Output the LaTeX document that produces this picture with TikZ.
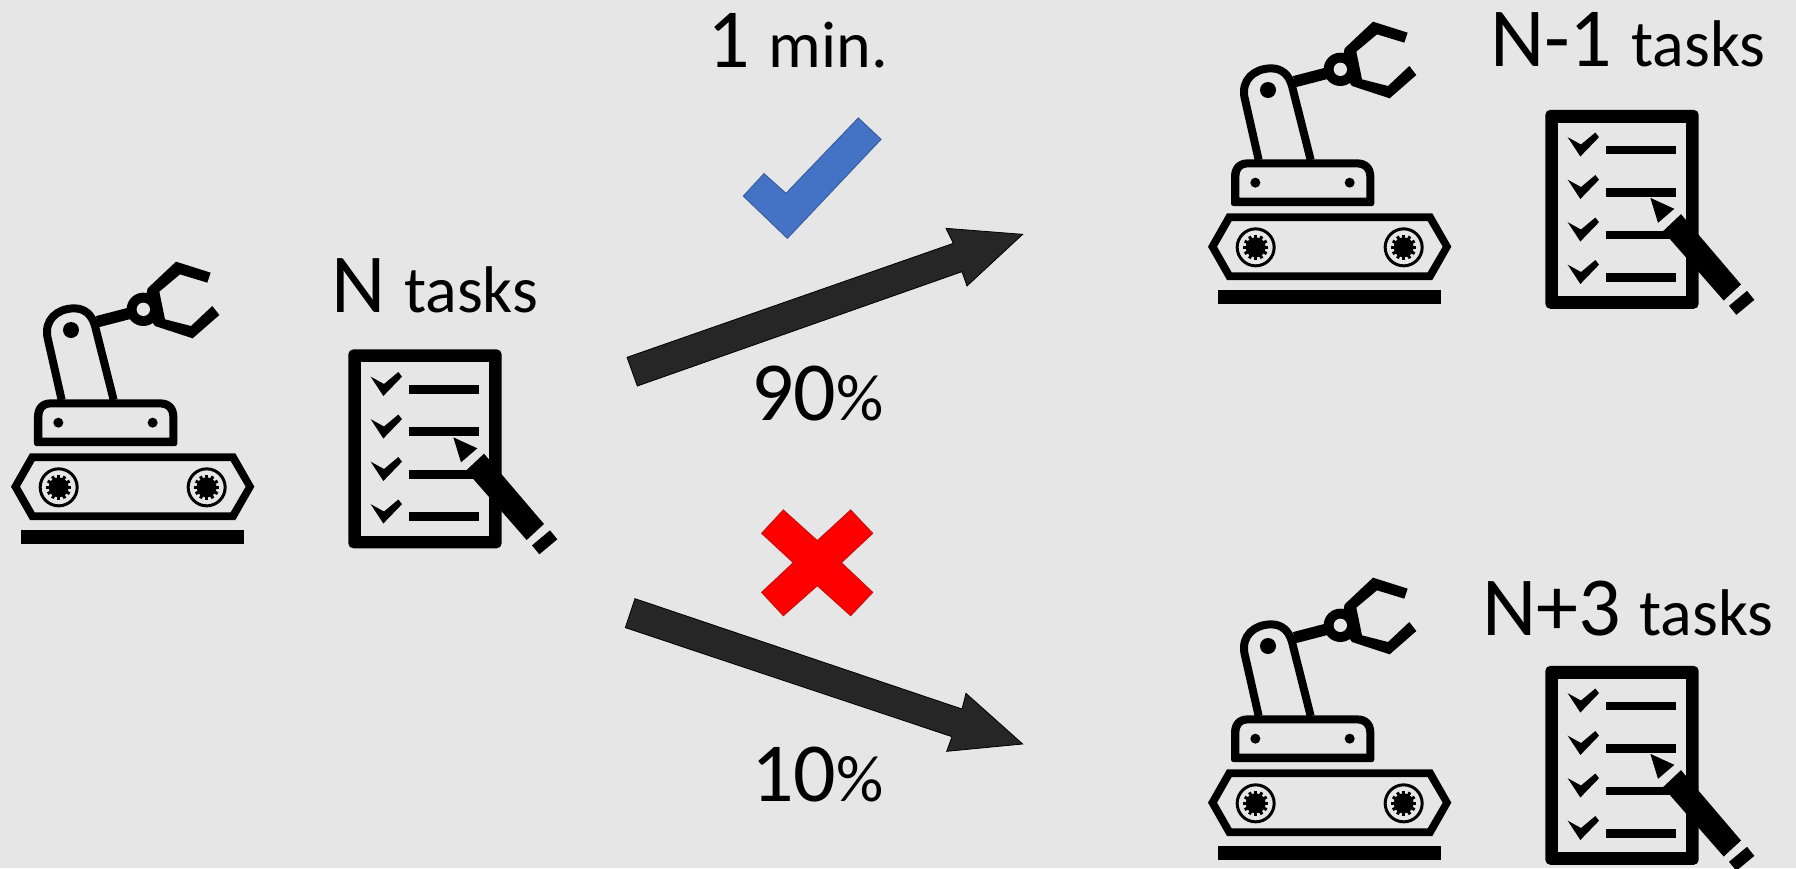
\documentclass[tikz,border=0pt]{standalone}
\usepackage{fontspec}
\setmainfont{Carlito}
\definecolor{bgc}{HTML}{E7E6E6}
\definecolor{arrowc}{HTML}{262626}
\definecolor{tickc}{HTML}{4472C4}
\definecolor{tickedge}{HTML}{3A5F9F}
\definecolor{crossedge}{HTML}{C81010}
\newcommand{\bigsz}{\fontsize{84}{90}\selectfont}
\newcommand{\smallsz}{\fontsize{66}{72}\selectfont}
\tikzset{
  icon/.style={x=0.33333pt,y=-0.33333pt},
  ink/.style={fill=black,draw=none},
  hole/.style={fill=bgc,draw=none},
  lbl/.style={inner sep=0pt,outer sep=0pt,anchor=base west,text=black},
  bigarrow/.style={fill=arrowc,draw=black,line width=0.8pt,line join=miter},
  robot/.pic={
    \begin{scope}[icon]
      % floor bar
      \fill[ink] (63,870) rectangle (732,912);
      % track
      \fill[ink,even odd rule] (33,740) -- (90,640) -- (706,640) -- (763,740) -- (706,840) -- (90,840) -- cycle
        (60,740) -- (104,663) -- (692,663) -- (737,740) -- (692,817) -- (104,817) -- cycle;
      % wheels
      \foreach \cx in {176,620}{
        \begin{scope}[shift={(\cx,742)}]
          \fill[ink,even odd rule] (0,0) circle (60) (0,0) circle (51);
          \fill[ink] (0,0) circle (30);
          \foreach \a in {0,30,...,330}
            \draw[black,line width=3pt] (\a:24) -- (\a:38);
        \end{scope}
      }
      % carriage
      \fill[ink,even odd rule]
        (102,610) -- (102,530) .. controls (102,498) and (122,478) .. (152,478) -- (480,478)
        .. controls (512,478) and (532,498) .. (532,530) -- (532,610)
        .. controls (532,615) and (529,618) .. (525,618) -- (109,618)
        .. controls (105,618) and (102,615) .. (102,610) -- cycle
        (127,593) -- (127,530) .. controls (127,512) and (136,502) .. (152,502) -- (480,502)
        .. controls (498,502) and (508,512) .. (508,530) -- (508,593) -- cycle;
      \fill[ink] (175,548) circle (15) (458,548) circle (15);
      % arm
      \draw[black,line width=8pt,line join=round]
        (185,480) -- (142,290) .. controls (134,240) and (170,206) .. (222,205)
        .. controls (255,205) and (276,225) .. (285,258) -- (341,480);
      \fill[ink] (213,270) circle (24);
      \draw[black,line width=11.5pt] (292,245) -- (400,217);
      % gripper
      \fill[ink] (443,145) -- (528,65) -- (632,98) -- (622,128) -- (540,103) -- (478,155)
        -- (495,238) -- (573,258) -- (637,198) -- (658,225) -- (578,295) -- (465,258) -- (430,208) -- cycle;
      \fill[ink] (430,208) circle (50);
      \fill[hole] (430,208) circle (20);
    \end{scope}
  },
  checklist/.pic={
    \begin{scope}[icon]
      \fill[ink,rounded corners=5pt] (85,58) rectangle (545,655);
      \fill[hole] (122,97) rectangle (507,617);
      \fill[ink] (268,165) rectangle (478,191);
      \fill[ink] (268,292) rectangle (478,319);
      \fill[ink] (268,420) rectangle (460,446);
      \fill[ink] (268,547) rectangle (478,574);
      \foreach \dy in {0,127.5,255,382.5}{
        \fill[ink] (152,140+\dy) -- (192,162+\dy) -- (235,126+\dy) -- (246,140+\dy) -- (190,198+\dy) -- cycle;
      }
      % pen
      \fill[ink] (400,322) -- (472,355) -- (423,397) -- cycle;
      \fill[ink] (492,371) -- (672,582) -- (620,630) -- (438,422) -- cycle;
      \fill[ink] (690,601) -- (712,628) -- (658,673) -- (636,646) -- cycle;
    \end{scope}
  },
}
\begin{document}
\begin{tikzpicture}[x=1pt,y=-1pt]
  \useasboundingbox (0,0) rectangle (1796,868);
  \fill[bgc] (0,0) rectangle (1796,868);
  \begin{scope}
    \clip (0,0) rectangle (1796,868);
    \pic at (0,240) {robot};
    \pic at (320,330) {checklist};
    \pic at (1197,0) {robot};
    \pic at (1517,90.5) {checklist};
    \pic at (1197,556) {robot};
    \pic at (1517,646.5) {checklist};
  \end{scope}
  % top branch
  \begin{scope}[shift={(600,0)},icon]
    \filldraw[fill=tickc,draw=tickedge,line width=1pt]
      (430,588) -- (492,521) -- (558,580) -- (775,354) -- (843,418) -- (562,715) -- cycle;
    \filldraw[bigarrow]
      (81,1072) -- (1060,730) -- (1038,685) -- (1268,703) -- (1101,858) -- (1086,815) -- (112,1158) -- cycle;
  \end{scope}
  % bottom branch
  \begin{scope}[shift={(600,490)},icon]
    \filldraw[fill=red,draw=crossedge,line width=1pt]
      (550,60) -- (652,152) -- (752,60) -- (818,130) -- (724,218) -- (818,307) -- (752,377)
      -- (652,287) -- (550,377) -- (485,307) -- (580,218) -- (485,130) -- cycle;
    \filldraw[bigarrow]
      (105,326) -- (1086,657) -- (1098,610) -- (1268,762) -- (1040,784) -- (1056,740) -- (76,413) -- cycle;
  \end{scope}
  % labels
  \node[lbl] (tN) at (331,312.7) {\bigsz N \smallsz tasks};
  \node[lbl] (tmin) at (707,67.3) {\bigsz 1 \smallsz min.};
  \node[lbl] (t90) at (751,420.7) {\bigsz 90\smallsz \%};
  \node[lbl] (t10) at (751,801.7) {\bigsz 10\smallsz \%};
  \node[lbl] (tN1) at (1490,66) {\bigsz N-1 \smallsz tasks};
  \node[lbl] (tN3) at (1482,635) {\bigsz N+3 \smallsz tasks};
\end{tikzpicture}
\end{document}
